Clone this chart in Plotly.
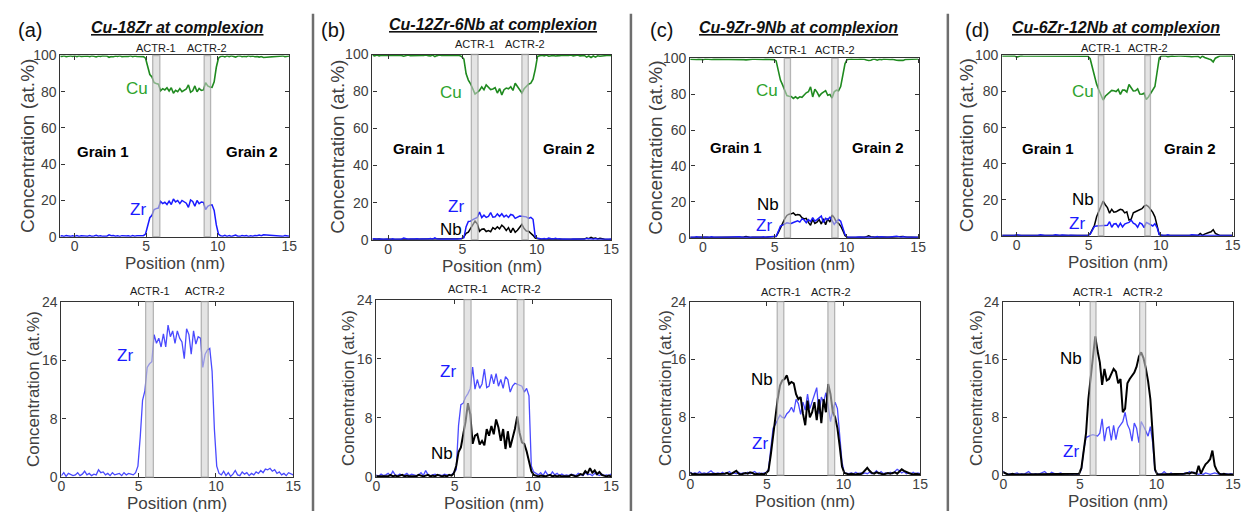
import numpy as np
import plotly.graph_objects as go

W, H = 1251, 519

# Sampling grid along the line profile (nm)
position = np.round(np.linspace(-1.05, 15.0, 108), 2)

# ---- Cu-18Zr ----
cu_a = [99.7, 99.5, 99.8, 99.4, 99.6, 99.8, 99.5,
        99.8, 99.4, 99.9, 99.5, 99.6, 99.8, 99.7, 99.4, 99.8, 99.6, 99.2, 99.7, 99.5, 99.8, 99.6, 99.7, 99.0,
        99.4, 99.3, 99.7, 99.5, 99.8, 99.4, 99.7, 99.6, 99.5, 99.8, 99.4, 99.7, 99.5, 99.6, 99.7, 99.4, 98.5,
        94.0, 89.5, 88.2, 85.0, 84.5, 84.2, 80.5, 81.7, 81.0, 82.2, 80.4, 82.2, 79.2, 80.8, 80.0, 81.7, 80.0,
        81.0, 81.5, 83.8, 79.7, 80.5, 83.2, 80.0, 81.8, 80.8, 81.0, 85.0, 83.2, 82.6, 82.4, 85.5, 93.5, 98.5, 99.5,
        99.7, 99.2, 99.8, 99.4, 99.9, 99.6, 99.1, 99.7, 99.8, 99.3, 99.6, 99.4, 99.8, 99.5, 99.7, 99.3, 99.5,
        99.1, 99.4, 98.9, 99.0, 98.8, 99.2, 99.0, 99.5, 99.3, 99.7, 99.5, 99.8, 99.4, 99.6, 99.7]
zr_a = [0.3, 0.5, 0.2, 0.6, 0.4, 0.2, 0.5,
        0.2, 0.6, 0.1, 0.5, 0.4, 0.2, 0.3, 0.6, 0.2, 0.4, 0.8, 0.3, 0.5, 0.2, 0.4, 0.3, 1.0, 0.6, 0.7, 0.3,
        0.5, 0.2, 0.6, 0.3, 0.4, 0.5, 0.2, 0.6, 0.3, 0.5, 0.4, 0.3, 0.6, 1.5,
        5.5, 10.5, 11.8, 15.0, 15.5, 15.8, 19.5, 18.3, 19.0, 17.8, 19.6, 17.8, 20.8, 19.2, 20.0, 18.3, 20.0,
        19.0, 18.5, 16.2, 20.3, 19.5, 16.8, 20.0, 18.2, 19.2, 19.0, 15.0, 16.8, 17.4, 17.6, 14.5, 6.5, 1.5, 0.5,
        0.3, 0.8, 0.2, 0.6, 0.1, 0.4, 0.9, 0.3, 0.2, 0.7, 0.4, 0.6, 0.2, 0.5, 0.3, 0.7, 0.5, 0.9, 0.6, 1.1,
        1.0, 1.2, 0.8, 1.0, 0.5, 0.7, 0.3, 0.5, 0.2, 0.6, 0.4, 0.3]

# ---- Cu-12Zr-6Nb ----
cu_b = [99.6, 99.3, 99.7, 99.3, 99.6, 99.6, 99.5,
        99.6, 99.7, 99.5, 99.7, 99.5, 99.4, 99.5, 99.1, 99.5, 99.7, 99.4, 99.5, 99.6, 99.3, 99.7, 99.5, 99.5,
        99.7, 99.4, 99.2, 99.7, 98.9, 99.4, 99.7, 99.5, 99.5, 99.5, 99.5, 99.7, 99.4, 99.6, 99.5, 99.5, 98.9,
        97.5, 89.6, 86.2, 84.2, 81.7, 78.7, 79.5, 80.6, 82.5, 81.0, 83.6, 82.5, 81.1, 81.4, 82.1, 79.2, 81.6,
        78.2, 81.0, 81.9, 81.5, 82.6, 80.6, 84.5, 82.6, 80.8, 79.2, 81.5, 83.0, 84.0, 84.5, 86.7, 92.0, 99.0, 99.3,
        99.6, 99.2, 99.7, 99.1, 99.5, 99.5, 99.2, 99.5, 99.4, 99.6, 99.5, 99.7, 99.5, 99.7, 99.3, 99.5, 99.7,
        99.3, 99.3, 99.5, 98.6, 99.2, 98.4, 99.2, 98.6, 99.3, 99.1, 99.3, 99.6, 99.6, 99.6, 99.5]
zr_b = [0.3, 0.5, 0.2, 0.4, 0.3, 0.2, 0.4,
        0.3, 0.1, 0.4, 0.2, 0.3, 0.5, 0.2, 0.8, 0.3, 0.2, 0.4, 0.2, 0.3, 0.5, 0.2, 0.4, 0.3, 0.2, 0.3, 0.6,
        0.2, 0.9, 0.3, 0.2, 0.3, 0.4, 0.2, 0.3, 0.2, 0.4, 0.3, 0.2, 0.3, 0.6,
        1.0, 7.0, 9.8, 10.0, 10.8, 11.3, 12.0, 14.9, 11.9, 13.2, 12.0, 12.6, 14.6, 12.1, 12.3, 13.9, 12.6,
        14.0, 12.3, 13.2, 12.0, 13.6, 13.2, 11.5, 12.3, 12.7, 12.6, 12.5, 12.3, 11.5, 12.0, 11.0, 1.5, 0.7, 0.5,
        0.3, 0.6, 0.2, 0.8, 0.3, 0.2, 0.7, 0.3, 0.5, 0.2, 0.4, 0.2, 0.3, 0.2, 0.4, 0.3, 0.2, 0.5, 0.3, 0.2,
        0.6, 0.3, 0.4, 0.2, 0.5, 0.3, 0.2, 0.4, 0.2, 0.3, 0.2, 0.4]
nb_b = [0.1, 0.2, 0.1, 0.3, 0.1, 0.2, 0.1,
        0.1, 0.2, 0.1, 0.1, 0.2, 0.1, 0.3, 0.1, 0.2, 0.1, 0.2, 0.3, 0.1, 0.2, 0.1, 0.1, 0.2, 0.1, 0.3, 0.2,
        0.1, 0.2, 0.3, 0.1, 0.2, 0.1, 0.3, 0.2, 0.1, 0.2, 0.1, 0.3, 0.2, 0.5,
        1.5, 3.4, 4.0, 5.8, 7.5, 10.0, 8.5, 4.5, 5.6, 5.8, 4.4, 4.9, 4.3, 6.5, 5.6, 6.9, 5.8, 7.8, 6.7, 4.9,
        6.5, 3.8, 6.2, 4.0, 5.1, 6.5, 8.2, 6.0, 4.7, 4.5, 3.5, 2.3, 0.8, 0.3, 0.2,
        0.1, 0.2, 0.1, 0.1, 0.2, 0.3, 0.1, 0.2, 0.1, 0.2, 0.1, 0.1, 0.2, 0.1, 0.3, 0.2, 0.1, 0.2, 0.4, 0.3,
        0.8, 0.5, 1.2, 0.6, 0.9, 0.4, 0.7, 0.3, 0.2, 0.1, 0.2, 0.1]

# ---- Cu-9Zr-9Nb ----
cu_c = [99.6, 99.5, 99.5, 99.5, 99.4, 99.6, 99.4,
        99.3, 99.7, 99.5, 99.7, 99.4, 99.6, 99.6, 99.7, 99.4, 99.3, 99.5, 99.7, 99.6, 99.6, 99.5, 99.6, 99.4,
        99.4, 99.6, 99.3, 99.2, 99.4, 99.7, 99.5, 99.5, 99.4, 99.4, 99.4, 99.4, 99.6, 99.6, 99.6, 99.6, 99.3,
        98.6, 93.7, 87.9, 85.2, 81.9, 79.3, 78.9, 78.8, 77.7, 78.6, 77.7, 78.6, 78.3, 79.6, 80.8, 81.4, 84.1,
        78.5, 82.8, 81.2, 78.9, 80.3, 81.0, 82.0, 79.4, 79.9, 77.9, 81.4, 82.3, 81.9, 84.3, 90.0, 97.0, 99.4, 99.6,
        99.7, 99.5, 99.7, 99.5, 99.6, 99.6, 99.5, 99.1, 98.8, 99.0, 99.5, 99.5, 99.0, 99.5, 99.3, 99.7, 99.5,
        99.5, 99.4, 99.5, 99.1, 99.0, 98.9, 98.9, 98.9, 99.4, 99.4, 99.6, 99.5, 99.6, 99.6, 99.7]
zr_c = [0.2, 0.4, 0.2, 0.3, 0.5, 0.2, 0.3,
        0.4, 0.2, 0.3, 0.2, 0.5, 0.2, 0.3, 0.2, 0.4, 0.6, 0.3, 0.2, 0.3, 0.2, 0.4, 0.2, 0.3, 0.5, 0.2, 0.3,
        0.2, 0.4, 0.2, 0.3, 0.2, 0.4, 0.2, 0.3, 0.5, 0.2, 0.3, 0.2, 0.3, 0.4,
        0.8, 3.5, 6.5, 7.0, 7.6, 8.3, 8.0, 7.9, 8.5, 8.8, 9.4, 8.7, 10.5, 9.9, 8.4, 10.1, 9.0, 11.2, 9.2,
        10.1, 11.0, 12.1, 8.5, 10.8, 10.1, 11.4, 9.5, 7.4, 9.0, 10.1, 9.2, 6.0, 1.8, 0.3, 0.2,
        0.2, 0.3, 0.2, 0.4, 0.2, 0.3, 0.2, 0.3, 0.2, 0.4, 0.2, 0.3, 0.6, 0.2, 0.5, 0.2, 0.3, 0.2, 0.4, 0.2,
        0.5, 0.8, 0.6, 0.3, 0.5, 0.2, 0.3, 0.2, 0.4, 0.2, 0.3, 0.2]
nb_c = [0.2, 0.1, 0.3, 0.2, 0.1, 0.2, 0.3,
        0.3, 0.1, 0.2, 0.1, 0.1, 0.2, 0.1, 0.1, 0.2, 0.1, 0.2, 0.1, 0.1, 0.2, 0.1, 0.2, 0.3, 0.1, 0.2, 0.4,
        0.6, 0.2, 0.1, 0.2, 0.3, 0.2, 0.4, 0.3, 0.1, 0.2, 0.1, 0.2, 0.1, 0.3,
        0.6, 2.8, 5.6, 7.8, 10.5, 12.4, 13.1, 13.3, 13.8, 12.6, 12.9, 12.7, 11.2, 10.5, 10.8, 8.5, 6.9, 10.3,
        8.0, 8.7, 10.1, 7.6, 10.5, 7.2, 10.5, 8.7, 12.6, 11.2, 8.7, 8.0, 6.5, 4.0, 1.2, 0.3, 0.2,
        0.1, 0.2, 0.1, 0.1, 0.2, 0.1, 0.3, 0.6, 1.0, 0.6, 0.3, 0.2, 0.4, 0.3, 0.2, 0.1, 0.2, 0.3, 0.2, 0.3,
        0.4, 0.2, 0.5, 0.8, 0.6, 0.4, 0.3, 0.2, 0.1, 0.2, 0.1, 0.1]

# ---- Cu-6Zr-12Nb ----
cu_d = [99.7, 99.7, 99.6, 99.7, 99.7, 99.7, 99.8,
        99.1, 99.6, 99.8, 99.7, 99.7, 99.7, 99.6, 99.8, 99.6, 99.8, 99.6, 99.4, 99.6, 99.8, 99.7, 99.8, 99.7,
        99.5, 99.4, 99.7, 99.8, 99.5, 99.6, 99.8, 99.7, 99.6, 99.8, 99.7, 99.7, 99.7, 99.8, 99.7, 99.8, 99.6,
        98.2, 93.3, 89.0, 84.1, 81.0, 78.4, 75.3, 77.4, 78.6, 79.7, 80.6, 80.4, 80.0, 81.2, 78.4, 80.8, 80.8,
        79.7, 83.9, 82.1, 80.3, 80.4, 81.5, 78.6, 78.5, 79.1, 75.6, 77.0, 79.0, 81.6, 82.8, 90.7, 98.6, 99.7, 99.8,
        99.7, 99.4, 99.7, 99.8, 99.6, 99.8, 99.7, 99.7, 99.7, 99.8, 99.5, 99.5, 99.3, 99.3, 99.3, 99.6, 98.6,
        99.7, 98.9, 98.3, 98.0, 97.6, 96.4, 98.5, 99.2, 99.7, 99.7, 99.7, 99.7, 99.8, 99.7, 99.8]
zr_d = [0.2, 0.1, 0.3, 0.2, 0.1, 0.2, 0.1,
        0.5, 0.2, 0.1, 0.2, 0.1, 0.2, 0.3, 0.1, 0.2, 0.1, 0.3, 0.5, 0.2, 0.1, 0.2, 0.1, 0.2, 0.3, 0.5, 0.2,
        0.1, 0.4, 0.2, 0.1, 0.2, 0.3, 0.1, 0.2, 0.1, 0.2, 0.1, 0.2, 0.1, 0.2,
        0.8, 3.5, 5.2, 5.4, 5.5, 5.6, 5.5, 5.4, 5.8, 7.8, 4.7, 6.5, 6.7, 4.8, 6.9, 4.9, 6.5, 7.0, 7.4, 8.7,
        7.0, 6.3, 4.7, 7.2, 6.5, 4.5, 7.4, 6.8, 6.2, 5.4, 6.7, 4.5, 0.6, 0.2, 0.1,
        0.2, 0.5, 0.2, 0.1, 0.3, 0.1, 0.2, 0.1, 0.2, 0.1, 0.3, 0.2, 0.5, 0.3, 0.4, 0.2, 0.1, 0.2, 0.1, 0.3,
        0.2, 0.1, 0.2, 0.3, 0.2, 0.1, 0.2, 0.1, 0.2, 0.1, 0.2, 0.1]
nb_d = [0.1, 0.2, 0.1, 0.1, 0.2, 0.1, 0.1,
        0.4, 0.2, 0.1, 0.1, 0.2, 0.1, 0.1, 0.1, 0.2, 0.1, 0.1, 0.1, 0.2, 0.1, 0.1, 0.1, 0.1, 0.2, 0.1, 0.1,
        0.1, 0.1, 0.2, 0.1, 0.1, 0.1, 0.1, 0.1, 0.2, 0.1, 0.1, 0.1, 0.1, 0.2,
        1.0, 3.2, 5.8, 10.5, 13.5, 16.0, 19.2, 17.2, 15.6, 12.5, 14.7, 13.1, 13.3, 14.0, 14.7, 14.3, 12.7,
        13.3, 8.7, 9.2, 12.7, 13.3, 13.8, 14.2, 15.0, 16.4, 17.0, 16.2, 14.8, 13.0, 10.5, 4.8, 0.8, 0.1, 0.1,
        0.1, 0.1, 0.2, 0.1, 0.1, 0.1, 0.1, 0.2, 0.1, 0.1, 0.2, 0.3, 0.2, 0.4, 0.3, 0.2, 1.3, 0.2, 0.9, 1.5,
        1.8, 2.2, 3.4, 1.3, 0.6, 0.2, 0.1, 0.2, 0.1, 0.1, 0.1, 0.1]

tags = ["(a)", "(b)", "(c)", "(d)"]
titles = ["Cu-18Zr at complexion", "Cu-12Zr-6Nb at complexion",
          "Cu-9Zr-9Nb at complexion", "Cu-6Zr-12Nb at complexion"]
cu_series = [cu_a, cu_b, cu_c, cu_d]
zr_series = [zr_a, zr_b, zr_c, zr_d]
nb_series = [None, nb_b, nb_c, nb_d]

# ACTR band limits (nm)
actr_bands = [((5.45, 5.95), (9.05, 9.50)),
              ((5.60, 6.05), (9.00, 9.43)),
              ((5.67, 6.10), (8.98, 9.42)),
              ((5.67, 6.05), (8.90, 9.29))]

for arr in cu_series + zr_series + [s for s in nb_series if s is not None]:
    assert len(arr) == len(position), len(arr)

# ---- styling / layout geometry (pixels) ----
FONT = "Arial, Liberation Sans, sans-serif"
GREEN, GREEN_TXT = "#1f8a1f", "#2ea32e"
BLUE, BLUE_LIGHT = "#1a1aff", "#4a4aff"
BLACK = "#000000"
AX = "#333333"
TXT = "#404040"

top_boxes = [(57, 288, 49, 236), (372, 613, 48, 239), (693, 924, 52, 237), (1008, 1242, 49, 235)]
bot_boxes = [(58, 292, 303, 484), (376, 613, 301, 484), (693, 925, 303, 482), (1009, 1241, 303, 482)]
top_xrange = [(-1.0, 15.0), (-1.05, 15.0), (-0.88, 15.07), (-1.0, 15.1)]
top_actr_y = [41.7, 36.7, 43.3, 41.7]
bot_actr_y = [292, 290, 293, 293]
top_ylab_x = [23, 336, 657, 972]
bot_ylab_x = [30, 348, 668, 982]
tag_x = [26, 332, 664, 982]
title_pos = [(175, 20), (494, 17), (802, 20), (1123, 20)]
grain_pos = [((100, 148), (250, 148)), ((419, 145), (570, 145)),
             ((739, 144), (882, 144)), ((1054, 145), (1197, 145))]
elem_labels = [
    (134, 83, "Cu", GREEN_TXT), (135, 208, "Zr", BLUE),
    (122, 359, "Zr", BLUE),
    (451, 87, "Cu", GREEN_TXT), (456, 205, "Zr", BLUE), (451, 229, "Nb", BLACK),
    (448, 375, "Zr", BLUE), (442, 460, "Nb", BLACK),
    (770, 85, "Cu", GREEN_TXT), (771, 203, "Nb", BLACK), (767, 224, "Zr", BLUE),
    (765, 383, "Nb", BLACK), (763, 449, "Zr", BLUE),
    (1089, 86, "Cu", GREEN_TXT), (1089, 198, "Nb", BLACK), (1083, 222, "Zr", BLUE),
    (1077, 362, "Nb", BLACK), (1077, 458, "Zr", BLUE),
]
separators_x = [312, 633, 953]


def px(x):
    return x / W


def py(y):
    return 1 - y / H


def sfx(n):
    return "" if n == 1 else str(n)


fig = go.Figure()
layout = dict(width=W, height=H, margin=dict(l=0, r=0, t=0, b=0),
              paper_bgcolor="white", plot_bgcolor="white", showlegend=False,
              font=dict(family=FONT, color=TXT))
annotations, shapes = [], []


def add_axes(n, box, xrange, yrange, ytickvals):
    x0, x1, y0, y1 = box
    common = dict(showline=True, linecolor=AX, linewidth=1.3, mirror="allticks",
                  ticks="inside", ticklen=4, tickwidth=1, tickcolor=AX,
                  showgrid=False, zeroline=False,
                  tickfont=dict(family=FONT, size=14, color=TXT))
    layout[f"xaxis{sfx(n)}"] = dict(domain=[px(x0), px(x1)], range=list(xrange),
                                    tickvals=[0, 5, 10, 15], anchor=f"y{sfx(n)}",
                                    ticklabelstandoff=-4, **common)
    layout[f"yaxis{sfx(n)}"] = dict(domain=[py(y1), py(y0)], range=list(yrange),
                                    tickvals=ytickvals, anchor=f"x{sfx(n)}", **common)


def text(x, y, s, size, color=TXT, angle=0):
    annotations.append(dict(x=x, y=y, xref="paper", yref="paper", text=s, showarrow=False,
                            xanchor="center", yanchor="middle", textangle=angle, borderpad=0,
                            font=dict(family=FONT, size=size, color=color)))


def line_trace(y, n, color, width):
    return go.Scatter(x=position, y=y, mode="lines", line=dict(color=color, width=width),
                      xaxis=f"x{sfx(n)}", yaxis=f"y{sfx(n)}", hoverinfo="skip")


for i in range(4):
    nt, nb = i + 1, i + 5
    add_axes(nt, top_boxes[i], top_xrange[i], (0, 100), [0, 20, 40, 60, 80, 100])
    add_axes(nb, bot_boxes[i], (0, 15), (0, 24), [0, 8, 16, 24])

    # upper row: full composition profile
    fig.add_trace(line_trace(cu_series[i], nt, GREEN, 1.6))
    if nb_series[i] is not None:
        fig.add_trace(line_trace(nb_series[i], nt, BLACK, 1.5))
    fig.add_trace(line_trace(zr_series[i], nt, BLUE, 1.5))

    # lower row: solute profiles on an expanded scale
    fig.add_trace(line_trace(zr_series[i], nb, BLUE_LIGHT, 1.3))
    if nb_series[i] is not None:
        fig.add_trace(line_trace(nb_series[i], nb, BLACK, 2.0))

    # ACTR bands and their labels
    for n, ylab in ((nt, top_actr_y[i]), (nb, bot_actr_y[i])):
        for k, (a, b) in enumerate(actr_bands[i]):
            shapes.append(dict(type="rect", xref=f"x{sfx(n)}", yref=f"y{sfx(n)} domain",
                               x0=a, x1=b, y0=0, y1=1, layer="above",
                               fillcolor="rgba(208,208,208,0.58)",
                               line=dict(color="rgba(160,160,160,0.75)", width=1.3)))
            annotations.append(dict(x=(a + b) / 2, y=py(ylab), xref=f"x{sfx(n)}", yref="paper",
                                    text=f"ACTR-{k + 1}", showarrow=False, borderpad=0,
                                    xanchor="center", yanchor="middle",
                                    font=dict(family=FONT, size=11, color="#1a1a1a")))

    # axis titles
    tb, bb = top_boxes[i], bot_boxes[i]
    text(px((tb[0] + tb[1]) / 2), py(tb[3] + 28), "Position (nm)", 17)
    text(px((bb[0] + bb[1]) / 2), py(bb[3] + 27), "Position (nm)", 17)
    text(px(top_ylab_x[i]), py((tb[2] + tb[3]) / 2), "Concentration (at.%)", 19, angle=-90)
    text(px(bot_ylab_x[i]), py((bb[2] + bb[3]) / 2), "Concentration (at.%)", 17, angle=-90)

    # panel tag and title
    text(px(tag_x[i]), py(23), tags[i], 20, color="#111111")
    text(px(title_pos[i][0]), py(title_pos[i][1]), f"<b><i><u>{titles[i]}</u></i></b>", 16,
         color="#111111")

    # grain labels
    for g, (gx, gy) in enumerate(grain_pos[i]):
        text(px(gx), py(gy), f"<b>Grain {g + 1}</b>", 15, color="#000000")

for x, y, s, col in elem_labels:
    text(px(x), py(y), s, 17, color=col)

for sx in separators_x:
    shapes.append(dict(type="line", xref="paper", yref="paper", x0=px(sx), x1=px(sx),
                       y0=py(6), y1=py(519), line=dict(color="#6e6e6e", width=2.5)))

layout["annotations"] = annotations
layout["shapes"] = shapes
fig.update_layout(**layout)

fig.write_html("out.html", config={"displayModeBar": False})
